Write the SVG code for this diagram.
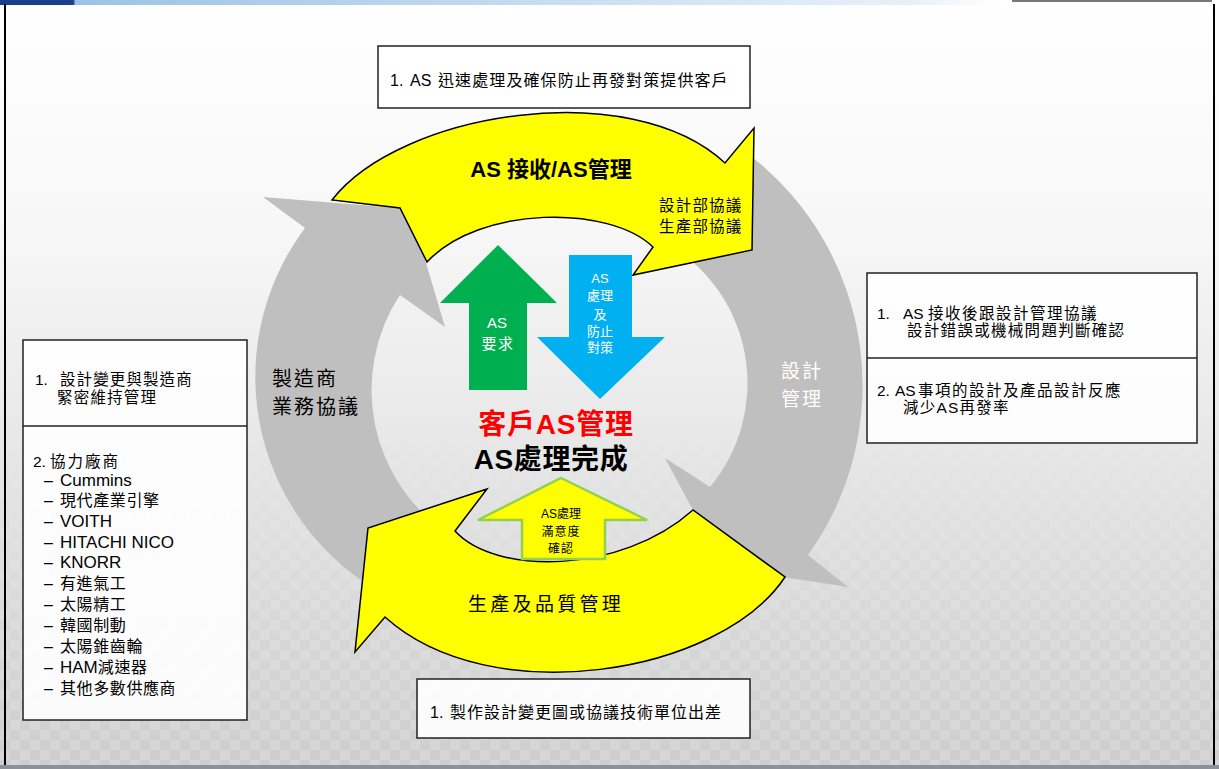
<svg xmlns="http://www.w3.org/2000/svg" width="1219" height="769" viewBox="0 0 1219 769">
<defs>
<linearGradient id="bg" x1="0" y1="0" x2="0" y2="1">
<stop offset="0" stop-color="#ffffff"/>
<stop offset="0.3" stop-color="#f7f7f7"/>
<stop offset="0.6" stop-color="#e6e6e6"/>
<stop offset="1" stop-color="#d5d5d5"/>
</linearGradient>
<linearGradient id="topbar" x1="0" y1="0" x2="1" y2="0">
<stop offset="0" stop-color="#1b3f8b"/>
<stop offset="0.06" stop-color="#1b3f8b"/>
<stop offset="0.062" stop-color="#9cc3e6"/>
<stop offset="0.75" stop-color="#e8f1fa"/>
<stop offset="0.82" stop-color="#ffffff"/>
<stop offset="1" stop-color="#ffffff"/>
</linearGradient>
<linearGradient id="fade" x1="0" y1="0" x2="0" y2="1">
<stop offset="0" stop-color="#fff" stop-opacity="0"/>
<stop offset="0.55" stop-color="#fff" stop-opacity="0"/>
<stop offset="1" stop-color="#fff" stop-opacity="1"/>
</linearGradient>
<pattern id="chk" width="20" height="20" patternUnits="userSpaceOnUse">
<rect x="0" y="0" width="10" height="10" fill="#000" fill-opacity="0.035"/>
<rect x="10" y="10" width="10" height="10" fill="#000" fill-opacity="0.035"/>
</pattern>
<mask id="m"><rect x="0" y="0" width="1219" height="769" fill="url(#fade)"/></mask>
<style>
.t{font-family:"Liberation Sans","Noto Sans CJK TC",sans-serif;fill:#000;}
.box{fill:#ffffff;fill-opacity:0.9;stroke:#222;stroke-width:1.5;}
.ylw{fill:#ffff00;stroke:#000;stroke-width:1.5;stroke-linejoin:miter;}
.gry{fill:#bfbfbf;stroke:none;}
.cj{letter-spacing:0.6px;}
</style>
</defs>
<rect x="0" y="0" width="1219" height="769" fill="url(#bg)"/>
<rect x="0" y="0" width="1219" height="769" fill="url(#chk)" mask="url(#m)"/>
<rect x="0" y="0" width="1219" height="5" fill="url(#topbar)"/>
<rect x="1012" y="0" width="200" height="2" fill="#777"/>
<line x1="5" y1="4" x2="5" y2="769" stroke="#000" stroke-width="2"/>
<line x1="1214" y1="4" x2="1214" y2="769" stroke="#000" stroke-width="2"/>
<rect x="0" y="765" width="1219" height="4" fill="#8c9099"/>

<g id="connectors">
<path id="gray-left" class="gry" d="M450,535 L395,600 A248,248 0 0 1 305,228 L263,197 L410,209 L445,327 L400,295 A173,173 0 0 0 450,535 Z"/>
<path id="gray-right" class="gry" d="M679,251 L752,157 A291,291 0 0 1 808,555 L848,587 L724,568 L665,458 L710,487 A162,162 0 0 0 679,251 Z"/>
<path id="yellow-top" class="ylw" d="M332,200 C400,112 630,75 725,163 L754,128 L752,250 L633,275 L653,247 C610,205 480,205 427,262 L400,208 Z"/>
<path id="yellow-bottom" class="ylw" d="M785,577 C720,675 490,712 385,617 L355,652 L368,528 L487,489 L455,531 C495,575 620,575 693,510 Z"/>
<path id="arrow-green" d="M498,245 L557,303 L527,303 L527,390 L469,390 L469,303 L440,303 Z" fill="#00b050"/>
<path id="arrow-blue" d="M569,255 L632,255 L632,337 L665,337 L600,399 L537,337 L569,337 Z" fill="#00b0f0"/>
<path id="arrow-small" d="M561,478 L647,520 L605,520 L605,559 L522,559 L522,520 L478,520 Z" fill="#ffff00" stroke="#92d050" stroke-width="2.5"/>
</g>

<g id="label-top-arrow">
<text class="t" x="551" y="177" font-size="22" font-weight="bold" text-anchor="middle">AS 接收/AS管理</text>
<text class="t" x="659" y="211" font-size="15.5" letter-spacing="1.2">設計部協議</text>
<text class="t" x="659" y="232" font-size="15.5" letter-spacing="1.2">生產部協議</text>
</g>
<g id="label-left-arrow">
<text class="t" x="272" y="386" font-size="20" letter-spacing="2" fill="#1a1a1a">製造商</text>
<text class="t" x="272" y="414" font-size="20" letter-spacing="2" fill="#1a1a1a">業務協議</text>
</g>
<g id="label-right-arrow">
<text class="t" x="781" y="378" font-size="19" letter-spacing="2" style="fill:#fff">設計</text>
<text class="t" x="781" y="406" font-size="19" letter-spacing="2" style="fill:#fff">管理</text>
</g>
<g id="label-bottom-arrow">
<text class="t" x="468" y="611" font-size="19" letter-spacing="3.3">生產及品質管理</text>
</g>
<g id="node-green">
<text class="t" x="497" y="328" font-size="15" text-anchor="middle" style="fill:#fff">AS</text>
<text class="t" x="498" y="349" font-size="15" text-anchor="middle" letter-spacing="1.5" style="fill:#fff">要求</text>
</g>
<g id="node-blue">
<text class="t" x="600" y="283" font-size="13" text-anchor="middle" style="fill:#fff">AS</text>
<text class="t" x="600" y="300" font-size="13" text-anchor="middle" style="fill:#fff">處理</text>
<text class="t" x="600" y="319" font-size="13" text-anchor="middle" style="fill:#fff">及</text>
<text class="t" x="600" y="336" font-size="13" text-anchor="middle" style="fill:#fff">防止</text>
<text class="t" x="600" y="352" font-size="13" text-anchor="middle" style="fill:#fff">對策</text>
</g>
<g id="node-small">
<text class="t" x="561" y="518" font-size="12" text-anchor="middle">AS處理</text>
<text class="t" x="561" y="536" font-size="12" text-anchor="middle" letter-spacing="1">滿意度</text>
<text class="t" x="561" y="553" font-size="12" text-anchor="middle" letter-spacing="1">確認</text>
</g>
<g id="node-center">
<text class="t" x="556" y="434" font-size="28" font-weight="bold" text-anchor="middle" letter-spacing="0.8" style="fill:#ff0000">客戶AS管理</text>
<text class="t" x="551" y="469" font-size="28" font-weight="bold" text-anchor="middle" letter-spacing="0.6">AS處理完成</text>
</g>

<g id="box-top">
<rect class="box" x="378" y="46" width="372" height="62"/>
<text class="t" y="86" font-size="16"><tspan x="390">1.</tspan><tspan x="410">AS</tspan><tspan x="438" letter-spacing="1.1">迅速處理及確保防止再發對策提供客戶</tspan></text>
</g>
<g id="box-right">
<rect class="box" x="867" y="273" width="330" height="170"/>
<line x1="867" y1="358" x2="1197" y2="358" stroke="#222" stroke-width="1.5"/>
<text class="t" y="319" font-size="15.5"><tspan x="877">1.</tspan><tspan x="903">AS</tspan><tspan x="928" letter-spacing="1.5">接收後跟設計管理協議</tspan></text>
<text class="t" x="907" y="336" font-size="15.5" letter-spacing="1.3">設計錯誤或機械問題判斷確認</text>
<text class="t" y="396" font-size="15.5"><tspan x="877">2.</tspan><tspan x="895">AS</tspan><tspan x="918" letter-spacing="1.5">事項的設計及產品設計反應</tspan></text>
<text class="t" x="903" y="413" font-size="15.5" letter-spacing="1.2">減少AS再發率</text>
</g>
<g id="box-left">
<rect class="box" x="23" y="340" width="224" height="380"/>
<line x1="23" y1="426" x2="247" y2="426" stroke="#222" stroke-width="1.5"/>
<text class="t" y="385" font-size="15.5"><tspan x="35">1.</tspan><tspan x="60" letter-spacing="1.1">設計變更與製造商</tspan></text>
<text class="t" x="57" y="403" font-size="15.5" letter-spacing="1.2">緊密維持管理</text>
<text class="t" y="467" font-size="15.5"><tspan x="33">2.</tspan><tspan x="50" letter-spacing="2">協力廠商</tspan></text>
<g font-size="16">
<text class="t" y="486"><tspan x="44">–</tspan><tspan x="60" font-size="17">Cummins</tspan></text>
<text class="t" y="506"><tspan x="44">–</tspan><tspan x="60" class="cj">現代產業引擎</tspan></text>
<text class="t" y="527"><tspan x="44">–</tspan><tspan x="60" font-size="17">VOITH</tspan></text>
<text class="t" y="548"><tspan x="44">–</tspan><tspan x="60" font-size="17">HITACHI NICO</tspan></text>
<text class="t" y="568"><tspan x="44">–</tspan><tspan x="60" font-size="17">KNORR</tspan></text>
<text class="t" y="589"><tspan x="44">–</tspan><tspan x="60" class="cj">有進氣工</tspan></text>
<text class="t" y="610"><tspan x="44">–</tspan><tspan x="60" class="cj">太陽精工</tspan></text>
<text class="t" y="631"><tspan x="44">–</tspan><tspan x="60" class="cj">韓國制動</tspan></text>
<text class="t" y="652"><tspan x="44">–</tspan><tspan x="60" class="cj">太陽錐齒輪</tspan></text>
<text class="t" y="673"><tspan x="44">–</tspan><tspan x="60" font-size="17">HAM</tspan><tspan class="cj">減速器</tspan></text>
<text class="t" y="694"><tspan x="44">–</tspan><tspan x="60" class="cj">其他多數供應商</tspan></text>
</g>
</g>
<g id="box-bottom">
<rect class="box" x="417" y="679" width="333" height="59"/>
<text class="t" y="718" font-size="16"><tspan x="430">1.</tspan><tspan x="450" letter-spacing="1">製作設計變更圖或協議技術單位出差</tspan></text>
</g>
</svg>
